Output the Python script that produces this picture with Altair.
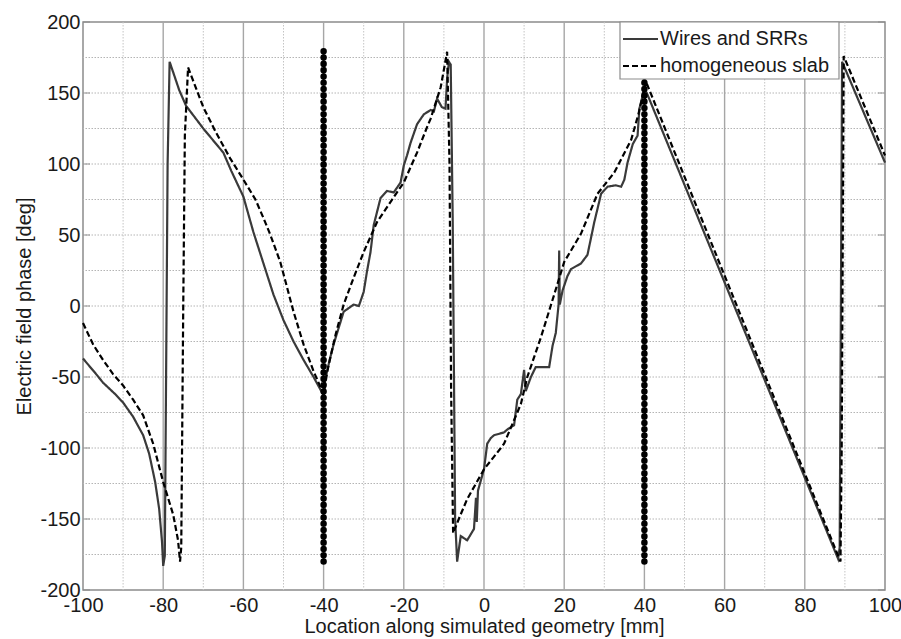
import altair as alt
import pandas as pd

FONT = "Liberation Sans"

# ---- data ----
solid_x = [-100, -97, -95, -92, -90, -87.5, -85, -83.5, -82, -81, -80.3, -80, -79.6, -78.9, -78.4,
           -76, -74.3, -70, -65, -63, -60, -57.5, -55, -52.5, -50, -47.5, -45, -42.5, -40,
           -39.6, -38.5, -37.5, -35, -32.5, -31.2, -30, -29.2, -28.3, -27.5, -25.8, -24.2, -22.5,
           -20.8, -20, -19.2, -18.3, -16.7, -15, -13.3, -12.5, -11.7, -10.5, -9.6, -9.2, -8.75, -8.3,
           -7.8, -7.2, -6.7, -5.8, -4.2, -2.5, -2.0, -1.8, -1.5, -0.8, 0, 0.8, 1.7, 2.5, 5, 5.8, 7.5,
           8.3, 9.2, 10, 10.4, 11.7, 12.9, 16.25, 17.1, 17.9, 18.6, 18.75, 18.9, 19.6, 20.8, 21.7,
           24.2, 25.8, 27.5, 29.2, 30.8, 32.9, 34.2, 35, 35.8, 37.1, 38.3, 38.75, 39.2, 40, 40.6,
           88.3, 88.7, 89.3, 100]
solid_y = [-37, -47, -54, -62, -68, -78, -91, -104, -124, -143, -166, -183, -176, 100, 172,
           152, 141, 125, 108, 95, 77, 52, 30, 8, -10, -25, -38, -50, -63,
           -52, -38, -27, -4, 1, 0, 10, 24, 38, 57, 76, 81, 80,
           87, 99, 106, 115, 128, 135, 138, 137, 146, 140, 139, 160, 172, 170,
           60, -150, -180, -162, -165, -157, -135, -152, -130, -123, -115, -97, -93, -91, -89, -87, -84,
           -66, -62, -45, -60, -50, -43, -43, -28, -19, 1, 39, 1, 11, 21, 26,
           30, 36, 59, 79, 84, 85, 84, 89, 101, 114, 120, 139, 144, 153, 150,
           -178, -170, 172, 101]

dash_x = [-100, -97.5, -95, -92.5, -90, -87.5, -85, -82.5, -80, -77.5, -76.3, -75.8, -75.5, -75, -74.6,
          -73.8, -70, -66.8, -63.3, -60, -57, -55, -53.4, -50.8, -47.5, -45, -42.5, -40,
          -39, -37, -35, -32.5, -30, -26.7, -21.7, -20, -16.7, -14.2, -13.3, -10.8, -9.2, -8.6,
          -8.2, -7.7, -6, -4.2, -2, 0, 4.2, 5, 8.3, 9.2, 10.8, 14.2, 17.5, 20, 24.2, 28.3, 32.5,
          36.7, 38.5, 40.4, 88.9, 89.2, 89.7, 100]
dash_y = [-12, -27, -38, -48, -56, -66, -77, -97, -124, -147, -165, -180, -170, 0, 120,
          168, 140, 122, 104, 89, 75, 62, 51, 31, -4, -27, -46, -62,
          -45, -20, 1, 20, 38, 59, 80, 87, 108, 126, 132, 154, 179, 100,
          -60, -160, -148, -136, -125, -115, -100, -97, -75, -69, -50, -22, 8, 31, 51, 79, 94,
          117, 135, 158, -180, -100, 176, 106]

series_names = ["Wires and SRRs", "homogeneous slab"]
series_colors = ["#3a3a3a", "#000000"]
probe_x = [-40, 40]
probe_y_low = [-180, -180]
probe_y_high = [180, 180]

x_major_ticks = list(range(-100, 101, 20))
y_major_ticks = list(range(-200, 201, 50))
x_grid_solid = [-80, -60, -40, -20, 0, 20, 40, 60, 80]
x_grid_dotted = [-90, -70, -50, -30, -10, 10, 30, 50, 70, 90]
y_grid_dotted = list(range(-175, 176, 25))

# ---- tables ----
rows = []
for i, (x, y) in enumerate(zip(solid_x, solid_y)):
    rows.append({"x": x, "y": y, "series": series_names[0], "i": i})
for i, (x, y) in enumerate(zip(dash_x, dash_y)):
    rows.append({"x": x, "y": y, "series": series_names[1], "i": i})
lines_df = pd.DataFrame(rows)
probe_df = pd.DataFrame({"x": probe_x, "y": probe_y_low, "y2": probe_y_high})

W, H = 802, 568
xs = alt.Scale(domain=[-100, 100], nice=False, zero=False)
ys = alt.Scale(domain=[-200, 200], nice=False, zero=False)
HYPHEN = "replace(datum.label, '\u2212', '-')"

x_axis = alt.Axis(values=x_major_ticks, title="Location along simulated geometry [mm]",
                  grid=False, domain=False, ticks=False, labelFlush=False, labelOverlap=False,
                  labelPadding=5, labelFontSize=20, titleFontSize=20, titlePadding=1,
                  labelColor="#1a1a1a", titleColor="#1a1a1a", titleFontWeight="normal",
                  labelFont=FONT, titleFont=FONT, labelExpr=HYPHEN)
y_axis = alt.Axis(values=y_major_ticks, title="Electric field phase [deg]",
                  grid=False, domain=False, ticks=False, labelFlush=False, labelOverlap=False,
                  labelPadding=3, labelFontSize=20, titleFontSize=20, titlePadding=5,
                  labelColor="#1a1a1a", titleColor="#1a1a1a", titleFontWeight="normal",
                  labelFont=FONT, titleFont=FONT, labelExpr=HYPHEN)

g_ydot = alt.Chart(pd.DataFrame({"y": y_grid_dotted})).mark_rule(
    color="#b4b4b4", strokeWidth=1, strokeDash=[1.5, 1.5]
).encode(y=alt.Y("y:Q", scale=ys, axis=y_axis))

g_xdot = alt.Chart(pd.DataFrame({"x": x_grid_dotted})).mark_rule(
    color="#c4c4c4", strokeWidth=1, strokeDash=[1.5, 1.5]
).encode(x=alt.X("x:Q", scale=xs, axis=x_axis))

g_xsol = alt.Chart(pd.DataFrame({"x": x_grid_solid})).mark_rule(
    color="#a6a6a6", strokeWidth=1.4
).encode(x=alt.X("x:Q", scale=xs, axis=x_axis))

ticks_l = alt.Chart(pd.DataFrame({"y": y_major_ticks})).mark_tick(
    orient="horizontal", color="#8c8c8c", size=7, thickness=1.3
).encode(y=alt.Y("y:Q", scale=ys, axis=y_axis), x=alt.value(3.5))
ticks_r = alt.Chart(pd.DataFrame({"y": y_major_ticks})).mark_tick(
    orient="horizontal", color="#8c8c8c", size=7, thickness=1.3
).encode(y=alt.Y("y:Q", scale=ys, axis=y_axis), x=alt.value(W - 3.5))

lines = alt.Chart(lines_df).mark_line(strokeWidth=2.2).encode(
    x=alt.X("x:Q", scale=xs, axis=x_axis),
    y=alt.Y("y:Q", scale=ys, axis=y_axis),
    order=alt.Order("i:Q"),
    color=alt.Color("series:N", scale=alt.Scale(domain=series_names, range=series_colors),
                    legend=None),
    strokeDash=alt.StrokeDash("series:N",
                              scale=alt.Scale(domain=series_names, range=[[1, 0], [6, 3]]),
                              legend=None),
)

probes = alt.Chart(probe_df).mark_rule(
    color="black", strokeWidth=6.5, strokeDash=[0.1, 6.2], strokeCap="round"
).encode(x=alt.X("x:Q", scale=xs, axis=x_axis),
         y=alt.Y("y:Q", scale=ys, axis=y_axis), y2="y2:Q")

# ---- legend box (top right, inside the axes) ----
one = pd.DataFrame({"a": [0]})
leg_box = alt.Chart(one).mark_rect(fill="white", stroke="#8c8c8c", strokeWidth=1.2).encode(
    x=alt.value(537), x2=alt.value(756), y=alt.value(0), y2=alt.value(57))
leg_l1 = alt.Chart(one).mark_rule(color=series_colors[0], strokeWidth=2.2).encode(
    x=alt.value(540), x2=alt.value(575), y=alt.value(17))
leg_l2 = alt.Chart(one).mark_rule(color=series_colors[1], strokeWidth=2.2, strokeDash=[6, 3]).encode(
    x=alt.value(540), x2=alt.value(575), y=alt.value(44))
leg_t1 = alt.Chart(pd.DataFrame({"t": [series_names[0]]})).mark_text(
    align="left", baseline="middle", fontSize=20, font=FONT, color="#1a1a1a").encode(
    text="t:N", x=alt.value(577), y=alt.value(17))
leg_t2 = alt.Chart(pd.DataFrame({"t": [series_names[1]]})).mark_text(
    align="left", baseline="middle", fontSize=20, font=FONT, color="#1a1a1a").encode(
    text="t:N", x=alt.value(577), y=alt.value(44))

chart = alt.layer(g_ydot, g_xdot, g_xsol, ticks_l, ticks_r, lines, probes,
                  leg_box, leg_l1, leg_l2, leg_t1, leg_t2).properties(
    width=W, height=H,
    autosize=alt.AutoSizeParams(type="none"),
    padding={"left": 83, "top": 22, "right": 16, "bottom": 49},
    background="white",
).configure_view(stroke="#8c8c8c", strokeWidth=1.5)

chart.save("out.html", embed_options={"renderer": "svg", "actions": False})
